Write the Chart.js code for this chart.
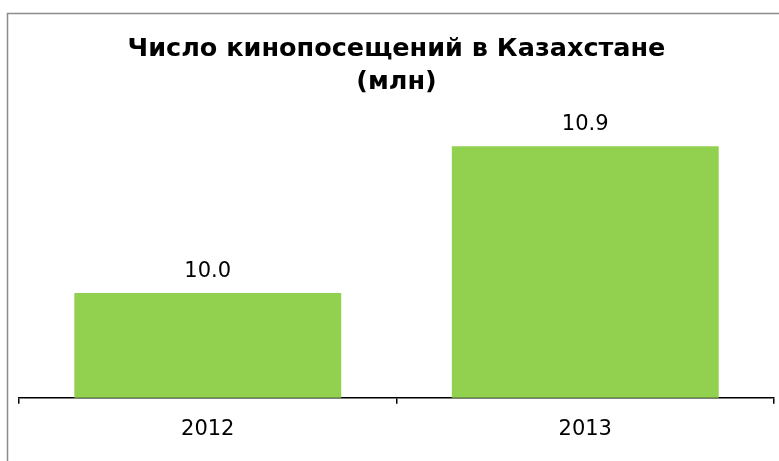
<!DOCTYPE html>
<html><head><meta charset="utf-8">
<script src="https://cdn.jsdelivr.net/npm/chart.js@4"></script>
<style>html,body{margin:0;padding:0;background:#fff}#wrap{width:779px;height:461px;position:relative}</style>
</head><body><div id="wrap"><canvas id="c" width="779" height="461"></canvas></div>
<script>
const categories = ['2012', '2013'];
const visits = [10.0, 10.9];
const valueLabels = ['10.0', '10.9'];
const titleLines = ['Число кинопосещений в Казахстане', '(млн)'];

const frame = {
  id: 'frame',
  beforeDraw(chart) {
    const ctx = chart.ctx;
    ctx.save();
    ctx.fillStyle = '#fff';
    ctx.fillRect(0, 0, chart.width, chart.height);
    ctx.strokeStyle = '#8c8c8c';
    ctx.lineWidth = 1.5;
    ctx.strokeRect(7.5, 13.5, 900, 600);
    ctx.restore();
  }
};
const valLabels = {
  id: 'valLabels',
  afterDatasetsDraw(chart) {
    const ctx = chart.ctx;
    const meta = chart.getDatasetMeta(0);
    ctx.save();
    ctx.font = '21px "DejaVu Sans"';
    ctx.fillStyle = '#000';
    ctx.textAlign = 'center';
    ctx.textBaseline = 'alphabetic';
    meta.data.forEach((bar, i) => {
      ctx.fillText(valueLabels[i], bar.x, bar.y - 16);
    });
    ctx.restore();
  }
};

new Chart(document.getElementById('c'), {
  type: 'bar',
  data: {
    labels: categories,
    datasets: [{
      data: visits,
      backgroundColor: '#92D050',
      borderWidth: 0,
      barPercentage: 0.707,
      categoryPercentage: 1.0
    }]
  },
  options: {
    responsive: false,
    animation: false,
    layout: { padding: { left: 19, right: 5, top: 33, bottom: 6 } },
    plugins: {
      legend: { display: false },
      tooltip: { enabled: false },
      title: {
        display: true,
        text: titleLines,
        color: '#000',
        font: { family: 'DejaVu Sans', size: 25.5, weight: 'bold', lineHeight: 1.3 },
        padding: { top: 0, bottom: 0 }
      }
    },
    scales: {
      x: {
        grid: { offset: true, drawOnChartArea: false, drawTicks: true, tickLength: 6, color: '#000', lineWidth: 1.5 },
        border: { display: true, color: '#000', width: 1.5 },
        ticks: { color: '#000', font: { family: 'DejaVu Sans', size: 21 }, padding: 13 }
      },
      y: {
        display: false,
        min: 9.357,
        max: 11.188
      }
    }
  },
  plugins: [frame, valLabels]
});
</script></body></html>
